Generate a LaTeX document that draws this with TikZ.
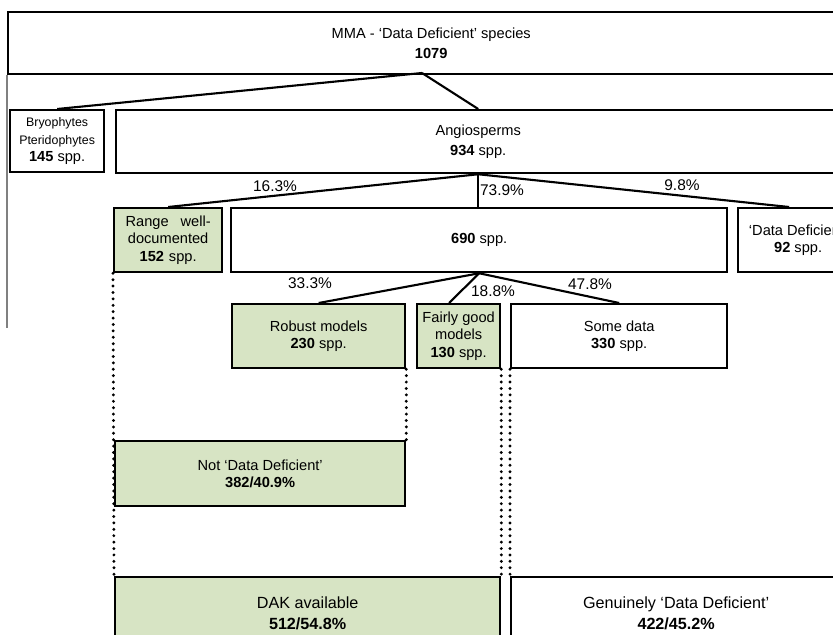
\documentclass[tikz,border=0pt]{standalone}
\usepackage{fontspec}
\setmainfont{Liberation Sans}
\usepackage{tikz}
\definecolor{dakgreen}{RGB}{215,228,196}
\tikzset{
  box/.style={draw, line width=1.6pt, inner sep=0pt, align=center, minimum height=1.6cm, anchor=north west, font=\fontsize{10.4}{12.5}\selectfont},
  greenbox/.style={box, fill=dakgreen},
  pct/.style={font=\fontsize{11}{12}\selectfont, inner sep=0pt},
  link/.style={line width=1.5pt},
  dots/.style={line width=2.3pt, line cap=round, dash pattern=on 0pt off 0.16cm},
}

\begin{document}
\begin{tikzpicture}[x=0.025cm,y=-0.025cm]
  \useasboundingbox (0,0) rectangle (833,635);
  \clip (0,0) rectangle (833,635);
  % boxes
  \node[box, minimum width=21.15cm, minimum height=1.55cm] (mma) at (7,11) {MMA - ‘Data Deficient’ species\\[2pt]\textbf{1079}};
  \node[box, minimum width=2.35cm, minimum height=1.55cm, font=\fontsize{8.8}{12.4}\selectfont] (bryo) at (9,109) {Bryophytes\\Pteridophytes\\{\fontsize{10.4}{12.5}\selectfont\textbf{145} spp.}};
  \node[box, minimum width=18.1cm, minimum height=1.575cm] (angio) at (115,109) {Angiosperms\\[2pt]\textbf{934} spp.};
  \node[greenbox, minimum width=2.7cm, text width=2.125cm] (range) at (113,207) {Range\hfill well-\\documented\\\textbf{152} spp.};
  \node[box, minimum width=12.4cm] (mid) at (230,207) {\textbf{690} spp.};
  \node[box, minimum width=3.0cm] (dd) at (737,207) {‘Data Deficient’\\\textbf{92} spp.};
  \node[greenbox, minimum width=4.325cm] (robust) at (231,303) {Robust models\\\textbf{230} spp.};
  \node[greenbox, minimum width=2.075cm] (fair) at (416,303) {Fairly good\\models\\\textbf{130} spp.};
  \node[box, minimum width=5.4cm] (some) at (510,303) {Some data\\\textbf{330} spp.};
  \node[greenbox, minimum width=7.25cm, minimum height=1.625cm] (notdd) at (114,440) {Not ‘Data Deficient’\\\textbf{382/40.9\%}};
  \node[greenbox, minimum width=9.625cm, minimum height=1.8cm, font=\fontsize{11.5}{13}\selectfont] (dak) at (114,576) {DAK available\\[2pt]\textbf{512/54.8\%}};
  \node[box, minimum width=8.25cm, minimum height=1.8cm, font=\fontsize{11.5}{13}\selectfont] (gdd) at (510,576) {Genuinely ‘Data Deficient’\\[2pt]\textbf{422/45.2\%}};

  % connectors
  \draw[gray, line width=1.1pt] (mma.south west) -- ++(0,253);
  \coordinate (mmaroot) at (422,73);
  \draw[link] (mmaroot) -- (bryo.north);
  \draw[link] (mmaroot) -- (angio.north);
  \draw[link] (angio.south) -- (range.north);
  \draw[link] (angio.south) -- (angio.south |- mid.north);
  \draw[link] (angio.south) -- ([xshift=-0.225cm]dd.north);
  \draw[link] (mid.south) -- (robust.north);
  \draw[link] (mid.south) -- ([xshift=-0.24cm]fair.north);
  \draw[link] (mid.south) -- (some.north);

  \draw[dots] (range.south west) -- (dak.north west);
  \draw[dots] (robust.south east) -- (notdd.north east);
  \draw[dots] (fair.south east) -- (dak.north east);
  \draw[dots] (some.south west) -- (gdd.north west);

  % percentages
  \node[pct] (p163) at (275,186) {16.3\%};
  \node[pct] (p739) at (502,190) {73.9\%};
  \node[pct] (p98) at (682,185) {9.8\%};
  \node[pct] (p333) at (310,283) {33.3\%};
  \node[pct] (p188) at (493,291) {18.8\%};
  \node[pct] (p478) at (590,284) {47.8\%};
\end{tikzpicture}
\end{document}
